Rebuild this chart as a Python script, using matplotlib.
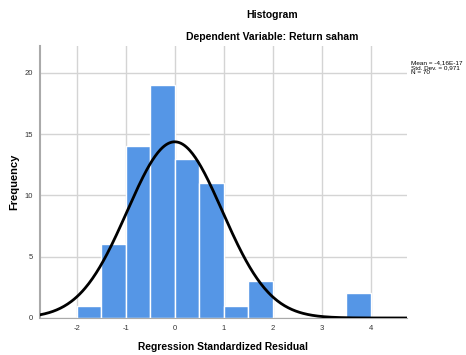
import numpy as np
import matplotlib.pyplot as plt

plt.rcParams['font.family'] = ['Liberation Sans', 'DejaVu Sans']
plt.rcParams['axes.unicode_minus'] = False

# histogram bins (width 0.5) and counts
bin_left = [-2.0, -1.5, -1.0, -0.5, 0.0, 0.5, 1.0, 1.5, 3.5]
counts = [1, 6, 14, 19, 13, 11, 1, 3, 2]
bin_width = 0.5

mean = -4.16e-17
std = 0.971
n = 70

xticks = [-2, -1, 0, 1, 2, 3, 4]
yticks = [0, 5, 10, 15, 20]

fig = plt.figure(figsize=(4.66, 3.55), dpi=100)
ax = fig.add_axes([40 / 466, 1 - 318 / 355, 367 / 466, 272 / 355])

ax.bar(bin_left, counts, width=bin_width, align='edge',
       color='#5596e6', edgecolor='white', linewidth=1.0, zorder=2)

xs = np.linspace(-2.75, 4.74, 400)
pdf = n * bin_width * np.exp(-0.5 * ((xs - mean) / std) ** 2) / (std * np.sqrt(2 * np.pi))
ax.plot(xs, pdf, color='black', linewidth=2, zorder=3)

ax.set_xlim(-2.75, 4.74)
ax.set_ylim(0, 22.2)
ax.set_xticks(xticks)
ax.set_yticks(yticks)
ax.tick_params(length=0, labelsize=5.5, colors='#333333', pad=5)
ax.grid(True, color='#d4d4d4', linewidth=1, zorder=0)
ax.set_axisbelow(True)
for s in ['top', 'right']:
    ax.spines[s].set_visible(False)
ax.spines['left'].set_color('#aaaaaa')
ax.spines['left'].set_linewidth(1.5)
ax.spines['bottom'].set_color('#aaaaaa')

fig.text(223 / 466, 1 - 347 / 355, 'Regression Standardized Residual', ha='center', va='center',
         fontsize=7.4, fontweight='bold')
fig.text(14 / 466, 1 - 182 / 355, 'Frequency', ha='center', va='center', rotation=90,
         fontsize=8, fontweight='bold')

fig.text(272 / 466, 1 - 15 / 355, 'Histogram', ha='center', va='center',
         fontsize=7.5, fontweight='bold')
fig.text(272 / 466, 1 - 37 / 355, 'Dependent Variable: Return saham', ha='center', va='center',
         fontsize=7.5, fontweight='bold')
fig.text(411 / 466, 1 - 68 / 355, 'Mean = -4,16E-17\nStd. Dev. = 0,971\nN = 70',
         ha='left', va='center', fontsize=4.6, linespacing=0.95)

fig.savefig('out.png', dpi=100, facecolor='white')
